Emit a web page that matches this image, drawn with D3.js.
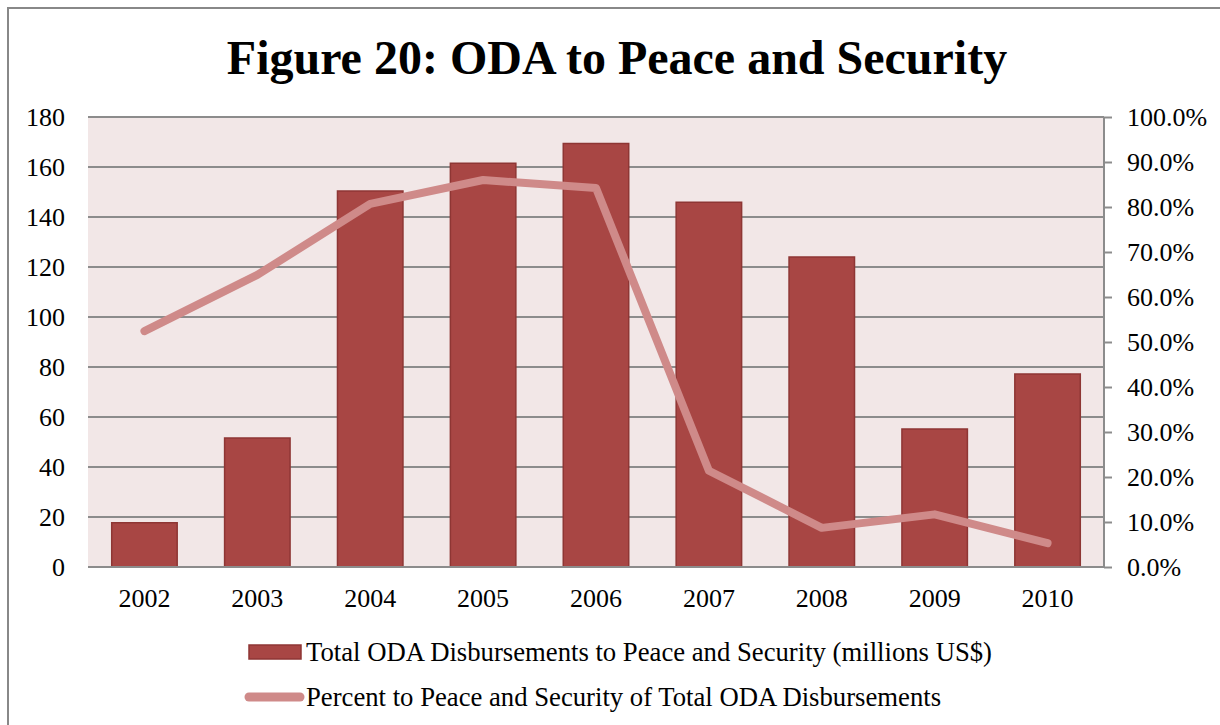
<!DOCTYPE html>
<html>
<head>
<meta charset="utf-8">
<script src="https://cdn.jsdelivr.net/npm/d3@7"></script>
<style>
  html, body { margin: 0; padding: 0; background: #fff; }
  svg { display: block; }
  .serif { font-family: "Liberation Serif", "Times New Roman", Times, "Nimbus Roman", "DejaVu Serif", serif; fill: #000; }
</style>
</head>
<body>
<svg id="chart" width="1220" height="725"></svg>
<script>
// ODA disbursements to peace and security, 2002-2010
const years = ["2002", "2003", "2004", "2005", "2006", "2007", "2008", "2009", "2010"];
const disbursements = [17.7, 51.6, 150.4, 161.5, 169.4, 145.9, 124.0, 55.2, 77.2];  // millions US$
const percentOfTotal = [0.524, 0.649, 0.807, 0.860, 0.842, 0.214, 0.087, 0.117, 0.053];
const leftTicks = [0, 20, 40, 60, 80, 100, 120, 140, 160, 180];
const rightTicks = [0, 0.1, 0.2, 0.3, 0.4, 0.5, 0.6, 0.7, 0.8, 0.9, 1.0];

const FONT = '"Liberation Serif", "Times New Roman", Times, "Nimbus Roman", "DejaVu Serif", serif';
const LABEL_SIZE = 26;
const LEGEND_SIZE = 26.7;

const svg = d3.select("#chart");
const plot = { left: 88, right: 1104, top: 117, bottom: 567 };

// outer frame
svg.append("rect")
  .attr("x", 8).attr("y", 8).attr("width", 1240).attr("height", 760)
  .attr("fill", "none").attr("stroke", "#888").attr("stroke-width", 2);

svg.append("text").attr("class", "serif")
  .attr("x", 617).attr("y", 74)
  .attr("text-anchor", "middle")
  .style("font-size", "48px").style("font-weight", "bold")
  .text("Figure 20: ODA to Peace and Security");

const x = d3.scaleBand().domain(years).range([plot.left, plot.right]).paddingInner(0.42).paddingOuter(0.21);
const y = d3.scaleLinear().domain([0, 180]).range([plot.bottom, plot.top]);
const y2 = d3.scaleLinear().domain([0, 1]).range([plot.bottom, plot.top]);

// plot background
svg.append("rect")
  .attr("x", plot.left).attr("y", plot.top)
  .attr("width", plot.right - plot.left).attr("height", plot.bottom - plot.top)
  .attr("fill", "#F2E7E7");

// gridlines
svg.append("g").selectAll("line").data(leftTicks).join("line")
  .attr("x1", plot.left).attr("x2", plot.right)
  .attr("y1", d => y(d)).attr("y2", d => y(d))
  .attr("stroke", "#8c8c8c").attr("stroke-width", 2);

function styleTicks(g) {
  g.attr("font-family", FONT).attr("font-size", LABEL_SIZE);
  g.selectAll("text").attr("class", "serif").attr("fill", "#000");
}

// left axis labels
const yAxis = d3.axisLeft(y).tickValues(leftTicks).tickSize(0).tickPadding(0);
const gy = svg.append("g").attr("transform", `translate(${plot.left - 23},0)`).call(yAxis);
gy.select(".domain").remove();
styleTicks(gy);
gy.selectAll("text").attr("dy", "0.33em");

// right axis
const y2Axis = d3.axisRight(y2).tickValues(rightTicks).tickSize(8).tickPadding(15).tickFormat(d3.format(".1%"));
const gy2 = svg.append("g").attr("transform", `translate(${plot.right},0)`).call(y2Axis);
gy2.select(".domain").attr("stroke", "#8c8c8c").attr("stroke-width", 2).attr("d", `M0,${plot.top}V${plot.bottom}`);
gy2.selectAll(".tick line").attr("stroke", "#8c8c8c").attr("stroke-width", 2);
styleTicks(gy2);
gy2.selectAll("text").attr("dy", "0.33em");

// bars
svg.append("g").selectAll("rect").data(years).join("rect")
  .attr("x", d => x(d))
  .attr("y", (d, i) => y(disbursements[i]))
  .attr("width", x.bandwidth())
  .attr("height", (d, i) => y(0) - y(disbursements[i]))
  .attr("fill", "#A84644").attr("stroke", "#8E3634").attr("stroke-width", 1.5);

// baseline
svg.append("line")
  .attr("x1", plot.left).attr("x2", plot.right)
  .attr("y1", y(0)).attr("y2", y(0))
  .attr("stroke", "#8c8c8c").attr("stroke-width", 2);

// percent line
const line = d3.line()
  .x((d, i) => x(years[i]) + x.bandwidth() / 2)
  .y(d => y2(d));
svg.append("path").datum(percentOfTotal)
  .attr("d", line)
  .attr("fill", "none").attr("stroke", "#CF8A89").attr("stroke-width", 8)
  .attr("stroke-linecap", "round").attr("stroke-linejoin", "round");

// x axis labels
const xAxis = d3.axisBottom(x).tickSize(0).tickPadding(0);
const gx = svg.append("g").attr("transform", `translate(0,${plot.bottom + 40})`).call(xAxis);
gx.select(".domain").remove();
styleTicks(gx);
gx.selectAll("text").attr("dy", 0);

// legend
const legend = svg.append("g").attr("font-family", FONT).attr("font-size", LEGEND_SIZE);
legend.append("rect")
  .attr("x", 249).attr("y", 645).attr("width", 52).attr("height", 14)
  .attr("fill", "#A84644").attr("stroke", "#8E3634").attr("stroke-width", 1.5);
legend.append("text").attr("class", "serif").attr("x", 306).attr("y", 661)
  .text("Total ODA Disbursements to Peace and Security (millions US$)");
legend.append("line")
  .attr("x1", 249).attr("x2", 300).attr("y1", 697).attr("y2", 697)
  .attr("stroke", "#CF8A89").attr("stroke-width", 9).attr("stroke-linecap", "round");
legend.append("text").attr("class", "serif").attr("x", 306).attr("y", 706)
  .text("Percent to Peace and Security of Total ODA Disbursements");
</script>
</body>
</html>
